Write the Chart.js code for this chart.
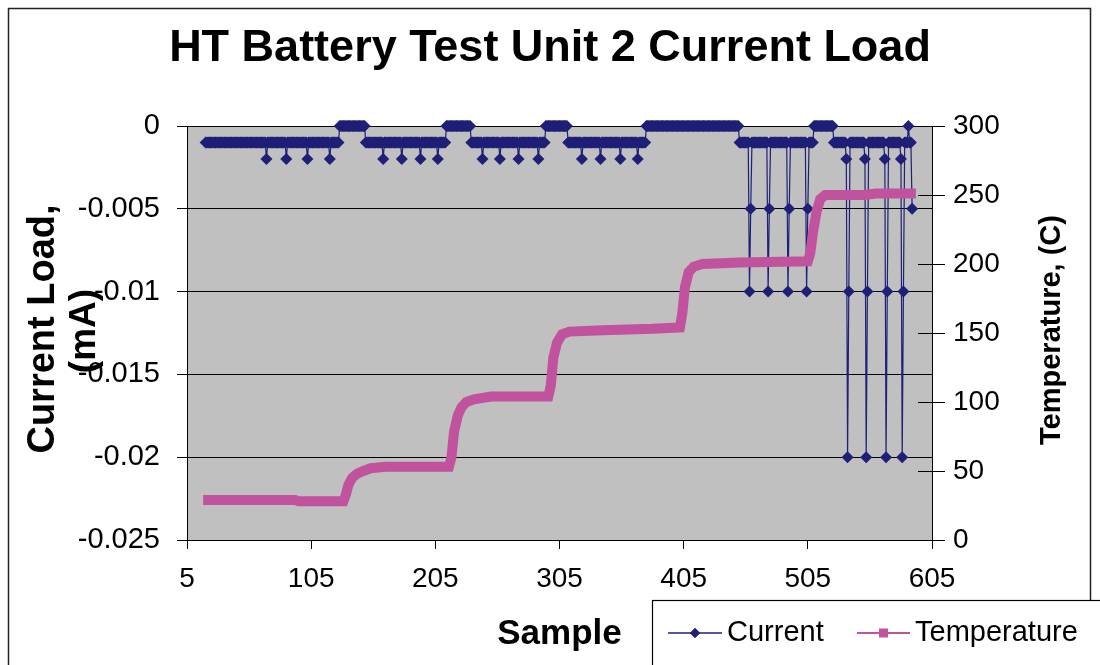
<!DOCTYPE html>
<html><head><meta charset="utf-8">
<script src="https://cdn.jsdelivr.net/npm/chart.js@4"></script>
<style>html,body{margin:0;padding:0;background:#fff;}canvas{display:block;}</style>
</head><body>
<canvas id="c" width="1100" height="665"></canvas>
<script>
// ---- data ----
const chartTitle = 'HT Battery Test Unit 2 Current Load';
const xTitle = 'Sample';
const yTitleLines = ['Current Load,', '(mA)'];
const y1Title = 'Temperature, (C)';
const xTicks = [5, 105, 205, 305, 405, 505, 605];
const yTicks = [0, -0.005, -0.01, -0.015, -0.02, -0.025];
const yTickLabels = ['0', '-0.005', '-0.01', '-0.015', '-0.02', '-0.025'];
const y1Ticks = [0, 50, 100, 150, 200, 250, 300];
// Current: [first sample of run, level (mA)]; each level holds until the next run
const currentSteps = [
  [20,-0.001],[69,-0.002],[70,-0.001],[85,-0.002],[86,-0.001],[102,-0.002],[103,-0.001],[120,-0.002],[121,-0.001],
  [128,0],
  [149,-0.001],[163,-0.002],[164,-0.001],[178,-0.002],[179,-0.001],[193,-0.002],[194,-0.001],[207,-0.002],[208,-0.001],
  [214,0],
  [234,-0.001],[243,-0.002],[244,-0.001],[257,-0.002],[258,-0.001],[272,-0.002],[273,-0.001],[288,-0.002],[289,-0.001],
  [294,0],
  [312,-0.001],[323,-0.002],[324,-0.001],[338,-0.002],[339,-0.001],[354,-0.002],[355,-0.001],[368,-0.002],[369,-0.001],
  [375,0],
  [450,-0.001],[458,-0.01],[459,-0.005],[460,-0.001],[473,-0.01],[474,-0.005],[475,-0.001],[489,-0.01],[490,-0.005],[491,-0.001],[504,-0.01],[505,-0.005],[506,-0.001],
  [510,0],
  [526,-0.001],[536,-0.002],[537,-0.02],[538,-0.01],[539,-0.001],[551,-0.002],[552,-0.02],[553,-0.01],[554,-0.001],
  [567,-0.002],[568,-0.02],[569,-0.01],[570,-0.001],[580,-0.002],[581,-0.02],[582,-0.01],[583,-0.001],
  [586,0],[587,-0.001],[589,-0.005]
];
const currentLastSample = 589;
// Temperature: [sample, degrees C]
const tempPoints = [
  [18,29],[92,29],[95,28],[131,28],[133,33],[135,40],[138,45],[142,48],[147,50],[153,52],[165,53],[216,53],
  [218,60],[220,78],[223,90],[226,96],[230,100],[236,102],[250,104],[296,104],
  [298,112],[300,132],[303,143],[307,149],[313,151],[340,152],[380,153],[402,154],
  [404,165],[406,183],[409,194],[413,198],[420,200],[450,201],[505,202],
  [507,208],[509,222],[512,238],[515,247],[519,250],[550,250],[560,251],[592,251]
];

// ---- build library tables ----
const currentData = [];
currentSteps.forEach((st, i) => {
  const end = i + 1 < currentSteps.length ? currentSteps[i + 1][0] - 1 : currentLastSample;
  for (let s = st[0]; s <= end; s++) currentData.push({x: s, y: st[1]});
});
const tempData = tempPoints.map(p => ({x: p[0], y: p[1]}));

const NAVY = '#1f1f78';
const PINK = '#c0529e';
const FONT = "'Liberation Sans', Arial, sans-serif";
Chart.defaults.font.family = FONT;
Chart.defaults.color = '#000';

function rotatedText(ctx, text, x, y, font) {
  ctx.save();
  ctx.translate(x, y);
  ctx.rotate(-Math.PI / 2);
  ctx.font = font;
  ctx.fillStyle = '#000';
  ctx.textAlign = 'center';
  ctx.textBaseline = 'middle';
  ctx.fillText(text, 0, 0);
  ctx.restore();
}

const deco = {
  id: 'deco',
  beforeDraw(chart) {
    const {ctx, chartArea: a} = chart;
    ctx.save();
    ctx.fillStyle = '#fff';
    ctx.fillRect(0, 0, chart.width, chart.height);
    ctx.fillStyle = '#c0c0c0';
    ctx.fillRect(a.left, a.top, a.right - a.left, a.bottom - a.top);
    ctx.restore();
  },
  beforeDatasetsDraw(chart) {
    const {ctx} = chart;
    const s = chart.scales.y1;
    ctx.save();
    ctx.strokeStyle = '#000';
    ctx.lineWidth = 1;
    y1Ticks.forEach(v => {
      const y = Math.round(s.getPixelForValue(v)) + 0.5;
      ctx.beginPath(); ctx.moveTo(s.left - 14, y); ctx.lineTo(s.left, y); ctx.stroke();
    });
    ctx.restore();
  },
  afterDraw(chart) {
    const {ctx, chartArea: a} = chart;
    const midY = (a.top + a.bottom) / 2 - 4;
    // axis titles, reading bottom to top
    rotatedText(ctx, yTitleLines[0], 44, midY, 'bold 38px ' + FONT);
    rotatedText(ctx, yTitleLines[1], 85, midY + 2, 'bold 37px ' + FONT);
    rotatedText(ctx, y1Title, 1052, midY + 1, 'bold 29px ' + FONT);

    ctx.save();
    // outer frame
    ctx.strokeStyle = '#222';
    ctx.lineWidth = 1.5;
    ctx.beginPath();
    ctx.moveTo(8.5, 670); ctx.lineTo(8.5, 8.5); ctx.lineTo(1090.5, 8.5); ctx.lineTo(1090.5, 600);
    ctx.stroke();
    // legend box
    ctx.fillStyle = '#fff';
    ctx.fillRect(652, 600, 470, 80);
    ctx.strokeStyle = '#000';
    ctx.lineWidth = 1.2;
    ctx.strokeRect(652.5, 600.5, 470, 80);
    const ly = 633;
    const ds = chart.data.datasets;
    // Current
    ctx.strokeStyle = NAVY; ctx.lineWidth = 1.5;
    ctx.beginPath(); ctx.moveTo(668, ly); ctx.lineTo(722, ly); ctx.stroke();
    ctx.fillStyle = NAVY;
    Chart.helpers.drawPoint(ctx, {pointStyle: 'rectRot', radius: 5, borderWidth: 0}, 695, ly);
    ctx.fill();
    // Temperature
    ctx.strokeStyle = PINK; ctx.lineWidth = 2;
    ctx.beginPath(); ctx.moveTo(857, ly); ctx.lineTo(910, ly); ctx.stroke();
    ctx.fillStyle = PINK;
    ctx.fillRect(879, ly - 4.5, 9, 9);
    ctx.font = '29px ' + FONT;
    ctx.fillStyle = '#000';
    ctx.textAlign = 'left';
    ctx.textBaseline = 'middle';
    ctx.fillText(ds[1].label, 727, ly);
    ctx.fillText(ds[0].label, 915, ly);
    ctx.restore();
  }
};

new Chart(document.getElementById('c'), {
  type: 'line',
  data: {
    datasets: [
      { label: 'Temperature', yAxisID: 'y1', data: tempData, borderColor: PINK, backgroundColor: PINK,
        borderWidth: 10, pointRadius: 0, tension: 0, order: 0, borderCapStyle: 'butt', borderJoinStyle: 'miter', clip: false },
      { label: 'Current', yAxisID: 'y', data: currentData, borderColor: NAVY, backgroundColor: NAVY,
        borderWidth: 1.2, pointStyle: 'rectRot', pointRadius: 6, pointBorderWidth: 0,
        pointBackgroundColor: NAVY, pointBorderColor: NAVY, tension: 0, order: 1, clip: false }
    ]
  },
  options: {
    responsive: false,
    devicePixelRatio: 1,
    animation: false,
    events: [],
    layout: { padding: 0 },
    plugins: {
      legend: { display: false },
      tooltip: { enabled: false },
      title: { display: true, text: chartTitle, color: '#000',
        font: { size: 45, weight: 'bold', lineHeight: 1.2 }, padding: { top: 22, bottom: 50 } }
    },
    scales: {
      x: {
        type: 'linear', min: 5, max: 605,
        afterBuildTicks: s => { s.ticks = xTicks.map(v => ({value: v})); },
        afterFit: s => { s.height = 125; },
        grid: { drawOnChartArea: false, drawTicks: true, tickLength: 9, color: '#000' },
        border: { display: true, color: '#000', width: 1 },
        ticks: { color: '#000', font: { size: 28 }, padding: 13, maxRotation: 0, autoSkip: false,
          callback: (v, i) => String(xTicks[i]) },
        title: { display: true, text: xTitle, color: '#000', font: { size: 35, weight: 'bold' },
          padding: { top: 0, bottom: 10 } }
      },
      y: {
        position: 'left', min: -0.025, max: 0,
        afterBuildTicks: s => { s.ticks = yTicks.map(v => ({value: v})); },
        afterFit: s => { s.width = 187; },
        grid: { color: '#000', lineWidth: 1, tickLength: 10, drawTicks: true },
        border: { display: true, color: '#000', width: 1 },
        ticks: { color: '#000', font: { size: 29 }, padding: 17, callback: (v, i) => yTickLabels[i] },
        title: { display: false }
      },
      y1: {
        position: 'right', min: 0, max: 300,
        afterBuildTicks: s => { s.ticks = y1Ticks.map(v => ({value: v})); },
        afterFit: s => { s.width = 168; },
        grid: { drawOnChartArea: false, drawTicks: true, tickLength: 13, color: '#000' },
        border: { display: true, color: '#000', width: 1 },
        ticks: { color: '#000', font: { size: 28 }, padding: 8, callback: (v, i) => String(y1Ticks[i]) },
        title: { display: false }
      }
    }
  },
  plugins: [deco]
});
</script>
</body></html>
